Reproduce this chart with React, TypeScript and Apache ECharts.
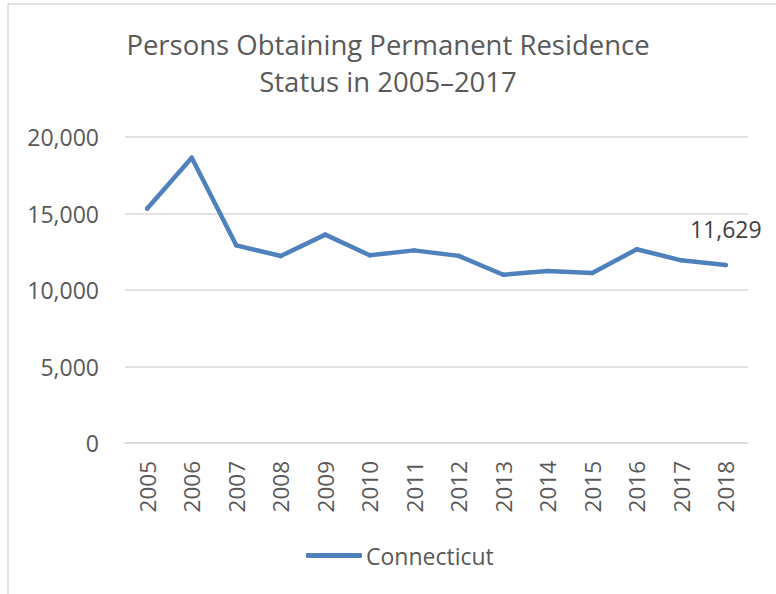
import React, { useEffect, useRef } from "react";
import * as echarts from "echarts";

const titleLines = ["Persons Obtaining Permanent Residence", "Status in 2005\u20132017"];
const years = ["2005", "2006", "2007", "2008", "2009", "2010", "2011", "2012", "2013", "2014", "2015", "2016", "2017", "2018"];
const connecticut = [15320, 18650, 12920, 12220, 13620, 12270, 12590, 12230, 11000, 11240, 11110, 12660, 11940, 11629];
const seriesName = "Connecticut";
const yTicks = { min: 0, max: 20000, interval: 5000 };

const FONT = "'Open Sans', Lato, sans-serif";
const GREY = "#595959";

export default function App() {
  const ref = useRef<HTMLDivElement>(null);
  useEffect(() => {
    if (!ref.current) return;
    const chart = echarts.init(ref.current, null, { renderer: "svg" });
    const last = connecticut.length - 1;
    chart.setOption({
      animation: false,
      backgroundColor: "#ffffff",
      textStyle: { fontFamily: FONT },
      title: {
        text: titleLines.join("\n"),
        left: "center",
        top: 21,
        textStyle: { fontFamily: FONT, fontSize: 27.5, fontWeight: "normal", color: GREY, lineHeight: 37 },
      },
      graphic: [
        {
          type: "rect",
          shape: { x: 8, y: 4, width: 820, height: 640 },
          style: { fill: "none", stroke: "#d9d9d9", lineWidth: 1.5 },
          silent: true,
          z: -1,
        },
      ],
      legend: {
        data: [seriesName],
        top: 539,
        left: 301,
        icon: "roundRect",
        itemWidth: 56,
        itemHeight: 5,
        textStyle: { fontFamily: FONT, fontSize: 23, color: GREY, padding: [0, 0, 0, -1] },
      },
      grid: { left: 125, right: 28, top: 137, bottom: 151, containLabel: false },
      xAxis: {
        type: "category",
        data: years,
        boundaryGap: true,
        axisLine: { show: true, lineStyle: { color: "#d9d9d9", width: 1.5 } },
        axisTick: { show: false },
        axisLabel: { rotate: 90, margin: 18, fontFamily: FONT, fontSize: 22.5, color: GREY },
      },
      yAxis: {
        type: "value",
        min: yTicks.min,
        max: yTicks.max,
        interval: yTicks.interval,
        axisLine: { show: false },
        axisTick: { show: false },
        splitLine: { lineStyle: { color: "#d9d9d9", width: 1.5 } },
        axisLabel: {
          margin: 26,
          fontFamily: FONT,
          fontSize: 23,
          color: GREY,
          formatter: (v: number) => v.toLocaleString("en-US"),
        },
      },
      series: [
        {
          name: seriesName,
          type: "line",
          data: connecticut.map((v, i) =>
            i === last
              ? {
                  value: v,
                  label: {
                    show: true,
                    position: "top",
                    distance: 22,
                    fontFamily: FONT,
                    fontSize: 23,
                    color: "#404040",
                    formatter: (p: any) => Number(p.value).toLocaleString("en-US"),
                  },
                }
              : v
          ),
          symbol: "circle",
          symbolSize: 4.5,
          showSymbol: true,
          lineStyle: { color: "#4f81bd", width: 4.5, cap: "round", join: "round" },
          itemStyle: { color: "#4f81bd", borderWidth: 0 },
        },
      ],
    });
    return () => chart.dispose();
  }, []);
  return <div ref={ref} style={{ position: "fixed", left: 0, top: 0, width: 776, height: 594 }} />;
}
